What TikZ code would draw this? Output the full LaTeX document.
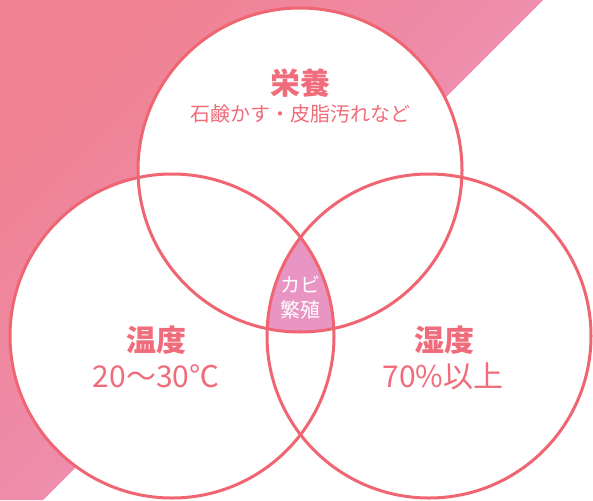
\documentclass[tikz,border=0pt]{standalone}
\usepackage{fontspec}
\newfontfamily\jp{Noto Sans CJK JP}
\definecolor{salmon}{RGB}{240,130,146}
\definecolor{bgpink}{RGB}{236,151,196}
\definecolor{lens}{RGB}{233,149,196}
\definecolor{ring}{RGB}{239,102,114}
\definecolor{txt}{RGB}{240,108,122}
\begin{document}
\begin{tikzpicture}[x=1pt,y=-1pt,
  ringline/.style={draw=ring,line width=3pt},
  title/.style={text=txt,font=\jp\bfseries\fontsize{30}{34}\selectfont,inner sep=0pt},
  sub/.style={text=txt,font=\jp\fontsize{20}{22}\selectfont,inner sep=0pt},
  val/.style={text=txt,font=\jp\fontsize{30}{32}\selectfont,inner sep=0pt},
  lenstext/.style={text=white,font=\jp\fontsize{20}{24}\selectfont,align=center,inner sep=0pt}]
\useasboundingbox (0,0) rectangle (593,500);
\fill[white] (0,0) rectangle (593,500);
\shade[top color=salmon,middle color=bgpink,bottom color=bgpink,shading angle=45]
  (0,0) -- (543,0) -- (43,500) -- (0,500) -- cycle;
\coordinate (ct) at (300,170);
\coordinate (cl) at (172,336);
\coordinate (cr) at (429,336);
\fill[white] (ct) circle[radius=162];
\fill[white] (cl) circle[radius=162];
\fill[white] (cr) circle[radius=162];
\begin{scope}
  \clip (ct) circle[radius=162];
  \clip (cl) circle[radius=162];
  \fill[lens] (cr) circle[radius=162];
\end{scope}
\draw[ringline] (ct) circle[radius=162];
\draw[ringline] (cl) circle[radius=162];
\draw[ringline] (cr) circle[radius=162];
\node[title] (t1) at (300,83) {栄養};
\node[sub] (s1) at (300,114) {石鹸かす・皮脂汚れなど};
\node[title] (t2) at (156,340) {温度};
\node[val] (v2) at (156,376) {20～30℃};
\node[title] (t3) at (444,340) {湿度};
\node[val] (v3) at (443,376) {70\%以上};
\node[lenstext] (c) at (300,298) {カビ\\[1pt]繁殖};
\end{tikzpicture}
\end{document}
